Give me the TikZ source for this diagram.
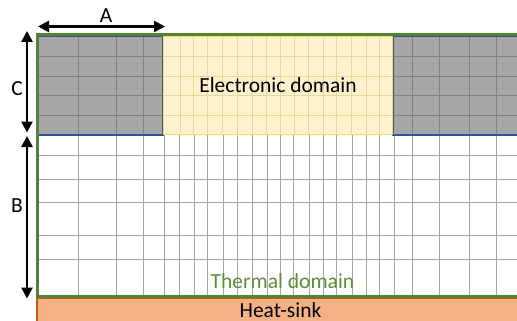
\documentclass[tikz,border=0pt]{standalone}
\usepackage{fontspec}
\setmainfont{Carlito}
\usetikzlibrary{arrows.meta}
\definecolor{cellgray}{RGB}{166,166,166}
\definecolor{cellline}{RGB}{128,128,128}
\definecolor{gridgray}{RGB}{165,165,165}
\definecolor{edgeblue}{RGB}{47,85,151}
\definecolor{elecfill}{RGB}{255,242,204}
\definecolor{elecedge}{RGB}{255,217,102}
\definecolor{elecline}{RGB}{232,214,160}
\definecolor{frameGreen}{RGB}{84,130,53}
\definecolor{thermtext}{RGB}{92,142,60}
\definecolor{sinkfill}{RGB}{244,177,131}
\definecolor{sinkedge}{RGB}{197,90,17}
\tikzset{
  gridline/.style={draw=gridgray, line width=0.9pt},
  darkline/.style={draw=cellline, line width=0.9pt},
  lightline/.style={draw=elecline, line width=0.9pt},
  dimarrow/.style={line width=2.6pt, {Triangle[length=11pt,width=11pt]}-{Triangle[length=11pt,width=11pt]}},
  lbl/.style={font=\fontsize{21.5}{25}\selectfont, inner sep=0pt}
}
\begin{document}
\begin{tikzpicture}[x=1pt,y=-1pt]
\useasboundingbox (0,0) rectangle (517,321);
\clip (0,0) rectangle (517,321);
\fill[white] (0,0) rectangle (517,321);

% thermal mesh below the device layer
\foreach \x in {78,116,143,164,179,194,207,223,237,252,267,280,293,309,323,336,352,366,379,394,412,439,469,496}
  \draw[gridline] (\x,135) -- (\x,296);
\foreach \y in {155,179,202,235,259}
  \draw[gridline] (38,\y) -- (530,\y);

% left contact block
\fill[cellgray] (38,36) rectangle (163,135);
\foreach \x in {78,116,143} \draw[darkline] (\x,36) -- (\x,135);
\foreach \y in {56,76,95,115} \draw[darkline] (38,\y) -- (163,\y);
\draw[edgeblue, line width=1.4pt] (38.5,36) rectangle (163,135);

% right contact block
\fill[cellgray] (393,36) rectangle (530,135);
\foreach \x in {412,439,469,496} \draw[darkline] (\x,36) -- (\x,135);
\foreach \y in {56,76,95,115} \draw[darkline] (393,\y) -- (530,\y);
\draw[edgeblue, line width=1.4pt] (393,36) rectangle (530,135);

% electronic domain
\fill[elecfill] (163,36) rectangle (393,135);
\foreach \x in {180,193,207,222,237,252,266,280,294,308,323,336,351,366,379}
  \draw[lightline] (\x,36) -- (\x,135);
\foreach \y in {56,76,95,115} \draw[lightline] (163,\y) -- (393,\y);
\draw[elecedge, line width=1.5pt] (163.5,36.5) rectangle (392.5,134.5);
\node[lbl, anchor=base] (elec) at (278,92.7) {Electronic domain};

% thermal domain frame
\draw[frameGreen, line width=2.6pt] (530,34.3) -- (37.5,34.3) -- (37.5,296.3) -- (530,296.3);
\node[lbl, anchor=base, text=thermtext] (therm) at (282.5,288) {Thermal domain};

% heat-sink
\draw[fill=sinkfill, draw=sinkedge, line width=1.6pt] (37,298.6) rectangle (540,340);
\node[lbl, anchor=base] (sink) at (280.5,317) {Heat-sink};

% dimension arrows
\coordinate (aL) at (38,26.5);
\coordinate (aR) at (165,26.5);
\coordinate (cT) at (27,31);
\coordinate (cB) at (27,132.5);
\coordinate (bT) at (27,136);
\coordinate (bB) at (27,298.5);
\draw[dimarrow] (aL) -- (aR);
\draw[dimarrow] (cT) -- (cB);
\draw[dimarrow] (bT) -- (bB);
\node[lbl] (labA) at (106,16) {A};
\node[lbl] (labC) at (17,89) {C};
\node[lbl] (labB) at (17,206) {B};
\end{tikzpicture}
\end{document}
